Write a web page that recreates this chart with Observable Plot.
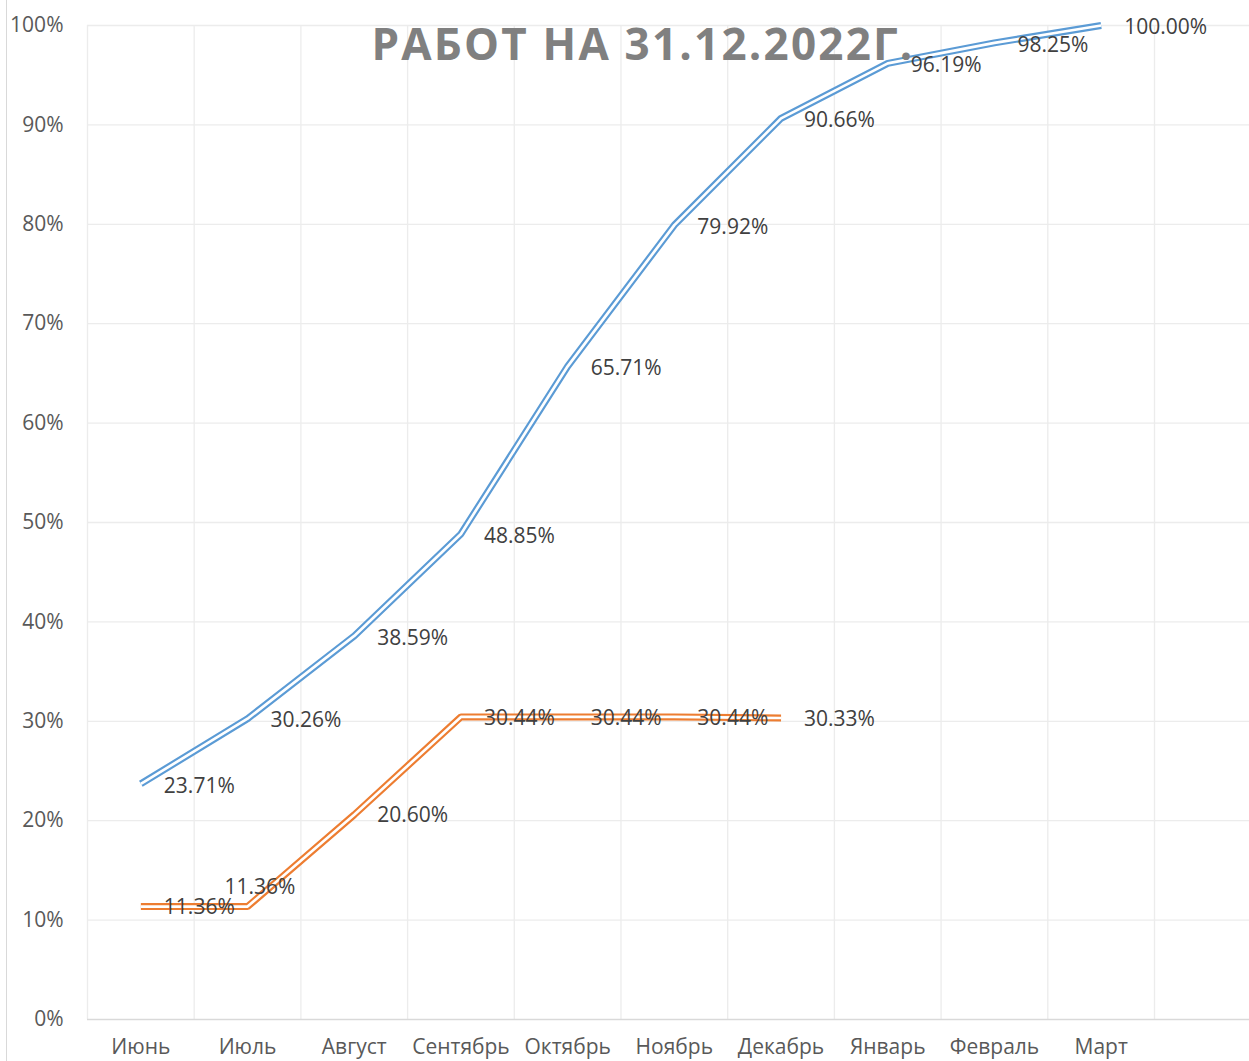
<!DOCTYPE html>
<html>
<head>
<meta charset="utf-8">
<script src="https://cdn.jsdelivr.net/npm/d3@7"></script>
<script src="https://cdn.jsdelivr.net/npm/@observablehq/plot@0.6"></script>
<style>
  html, body { margin: 0; padding: 0; background: #fff; }
  #wrap { position: relative; width: 1249px; height: 1061px; overflow: hidden; font-family: "Open Sans", sans-serif; }
  #border { position: absolute; left: 6px; top: 0; width: 1px; height: 1061px; background: #d9d9d9; }
  #title { position: absolute; top: 21px; left: 643px; transform: translateX(-50%); font-size: 44px; line-height: 1; font-weight: 700; color: #808080; letter-spacing: 2.2px; white-space: nowrap; }
</style>
</head>
<body>
<div id="wrap"><div id="border"></div></div>
<script>
const months = ["Июнь","Июль","Август","Сентябрь","Октябрь","Ноябрь","Декабрь","Январь","Февраль","Март"];
const planValues = [23.71, 30.26, 38.59, 48.85, 65.71, 79.92, 90.66, 96.19, 98.25, 100.00];
const factValues = [11.36, 11.36, 20.60, 30.44, 30.44, 30.44, 30.33];
const yTicks = [0, 10, 20, 30, 40, 50, 60, 70, 80, 90, 100];
const titleText = "РАБОТ НА 31.12.2022Г.";

const blue = "#5B9BD5", orange = "#ED7D31";
const gridColor = "#ececec";
const fmt = d => d.toFixed(2) + "%";
const idx = (d, i) => i;
const boundaries = d3.range(-0.5, months.length + 1.5, 1);

function doubleLine(values, color) {
  return [
    Plot.line(values, {x: idx, y: d => d, stroke: color, strokeWidth: 7, strokeLinecap: "butt", strokeLinejoin: "miter"}),
    Plot.line(values, {x: idx, y: d => d, stroke: "white", strokeWidth: 2.7, strokeLinecap: "butt", strokeLinejoin: "miter"})
  ];
}

const chart = Plot.plot({
  width: 1249,
  height: 1061,
  marginTop: 25,
  marginBottom: 42,
  marginLeft: 87,
  marginRight: 0,
  style: {fontFamily: "'Open Sans', sans-serif", background: "white", overflow: "hidden"},
  x: {type: "linear", domain: [-0.5, 10.5], range: [87, 87 + 11 * 106.7]},
  y: {domain: [0, 100]},
  marks: [
    Plot.ruleY(yTicks.filter(d => d > 0), {stroke: gridColor, strokeWidth: 1.3}),
    Plot.ruleX(boundaries, {stroke: gridColor, strokeWidth: 1.3}),
    Plot.ruleY([0], {stroke: "#d9d9d9", strokeWidth: 1.3}),
    Plot.axisY({ticks: yTicks, tickFormat: d => d + "%", tickSize: 0, tickPadding: 24, fontSize: 21, color: "#595959", label: null}),
    Plot.axisX({ticks: d3.range(months.length), tickFormat: i => months[i], tickSize: 0, tickPadding: 20, fontSize: 21, color: "#595959", label: null}),
    ...doubleLine(planValues, blue),
    ...doubleLine(factValues, orange),
    Plot.text(planValues, {x: idx, y: d => d, text: fmt, textAnchor: "start", dx: 23, dy: 2, fontSize: 21, fill: "#404040"}),
    Plot.text(factValues, {x: idx, y: d => d, text: fmt, filter: (d, i) => i !== 1, textAnchor: "start", dx: 23, dy: 1, fontSize: 21, fill: "#404040"}),
    Plot.text(factValues, {x: idx, y: d => d, text: fmt, filter: (d, i) => i === 1, textAnchor: "start", dx: -23, dy: -19, fontSize: 21, fill: "#404040"})
  ]
});

const wrap = document.getElementById("wrap");
wrap.appendChild(chart);
const t = document.createElement("div");
t.id = "title";
t.textContent = titleText;
wrap.appendChild(t);
</script>
</body>
</html>
